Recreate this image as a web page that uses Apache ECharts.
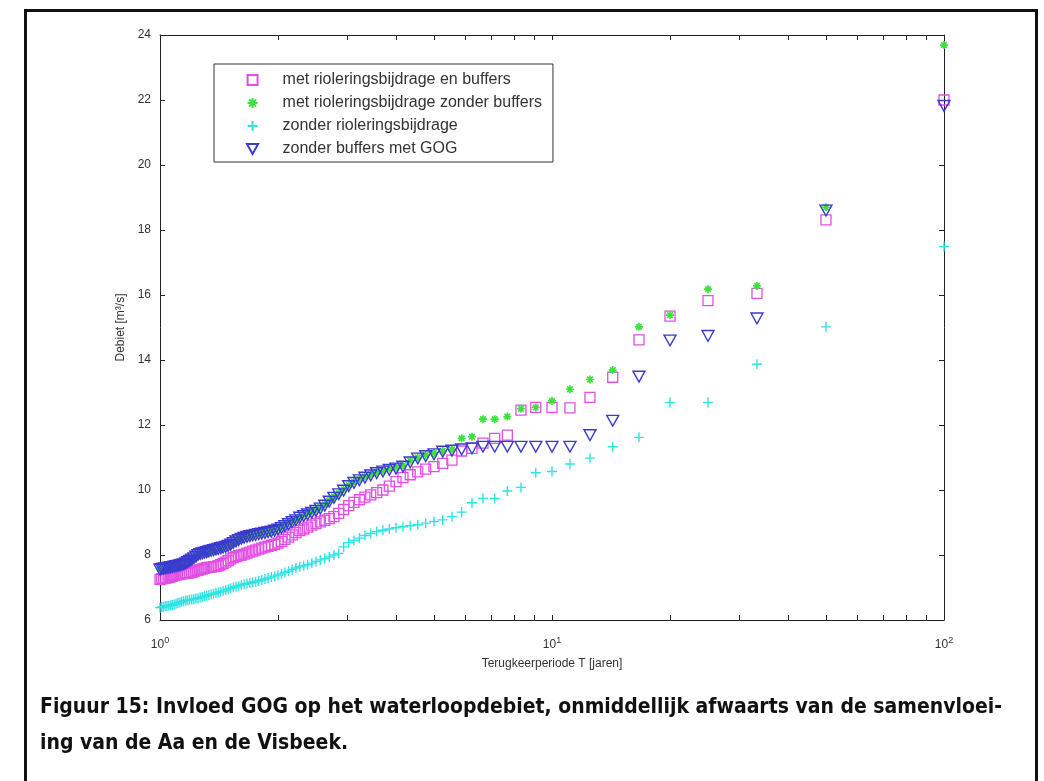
<!DOCTYPE html>
<html><head><meta charset="utf-8">
<script src="https://cdn.jsdelivr.net/npm/echarts@6/dist/echarts.min.js"></script>
<style>html,body{margin:0;padding:0;background:#fff;}#c{width:1044px;height:781px;}</style>
</head><body><div id="c"></div>
<script>
// Return periods T [jaren]
const periods = [100, 50, 33.333, 25, 20, 16.667, 14.286, 12.5, 11.111, 10, 9.091, 8.333, 7.692, 7.143, 6.667, 6.25, 5.882, 5.556, 5.263, 5,
  4.762, 4.545, 4.348, 4.167, 4, 3.846, 3.704, 3.571, 3.448, 3.333, 3.226, 3.125, 3.030, 2.941, 2.857, 2.778, 2.703, 2.632, 2.564, 2.5,
  2.439, 2.381, 2.326, 2.273, 2.222, 2.174, 2.128, 2.083, 2.041, 2, 1.961, 1.923, 1.887, 1.852, 1.818, 1.786, 1.754, 1.724, 1.695, 1.667,
  1.639, 1.613, 1.587, 1.563, 1.538, 1.515, 1.493, 1.471, 1.449, 1.429, 1.408, 1.389, 1.370, 1.351, 1.333, 1.316, 1.299, 1.282, 1.266, 1.25,
  1.235, 1.220, 1.205, 1.190, 1.176, 1.163, 1.149, 1.136, 1.124, 1.111, 1.099, 1.087, 1.075, 1.064, 1.053, 1.042, 1.031, 1.020, 1.010, 1];

// met rioleringsbijdrage en buffers
const metBuffers = [22.0, 18.31, 16.05, 15.83, 15.35, 14.62, 13.47, 12.85, 12.53, 12.54, 12.54, 12.46, 11.69, 11.59, 11.44, 11.28, 11.2, 10.92, 10.82, 10.72,
  10.64, 10.56, 10.47, 10.38, 10.26, 10.12, 10.00, 9.92, 9.85, 9.78, 9.70, 9.62, 9.52, 9.40, 9.28, 9.18, 9.12, 9.07, 9.02, 8.97,
  8.92, 8.86, 8.80, 8.75, 8.69, 8.62, 8.55, 8.48, 8.42, 8.37, 8.33, 8.30, 8.27, 8.24, 8.21, 8.18, 8.15, 8.12, 8.09, 8.06,
  8.03, 8.00, 7.98, 7.95, 7.92, 7.88, 7.83, 7.78, 7.74, 7.70, 7.67, 7.65, 7.64, 7.63, 7.62, 7.61, 7.59, 7.57, 7.55, 7.53,
  7.51, 7.49, 7.47, 7.45, 7.44, 7.44, 7.43, 7.42, 7.41, 7.40, 7.39, 7.37, 7.35, 7.33, 7.31, 7.30, 7.29, 7.28, 7.27, 7.25];

// met rioleringsbijdrage zonder buffers
const metZonderBuffers = [23.69, 18.7, 16.28, 16.18, 15.38, 15.02, 13.69, 13.4, 13.1, 12.74, 12.54, 12.5, 12.26, 12.18, 12.18, 11.64, 11.59, 11.25, 11.2, 11.14,
  11.08, 11.0, 10.9, 10.76, 10.7, 10.66, 10.6, 10.55, 10.48, 10.42, 10.33, 10.26, 10.15, 10.02, 9.9, 9.8, 9.68, 9.56, 9.47, 9.4,
  9.34, 9.29, 9.24, 9.18, 9.11, 9.05, 8.99, 8.93, 8.87, 8.81, 8.77, 8.74, 8.72, 8.7, 8.68, 8.66, 8.64, 8.62, 8.6, 8.57,
  8.54, 8.5, 8.46, 8.42, 8.37, 8.32, 8.29, 8.27, 8.25, 8.23, 8.21, 8.19, 8.17, 8.15, 8.13, 8.11, 8.09, 8.07, 8.04, 8.0,
  7.95, 7.9, 7.86, 7.82, 7.78, 7.75, 7.74, 7.72, 7.71, 7.7, 7.68, 7.67, 7.66, 7.65, 7.64, 7.63, 7.62, 7.61, 7.59, 7.58];

// zonder rioleringsbijdrage
const zonderRiolering = [17.49, 15.02, 13.87, 12.69, 12.69, 11.62, 11.33, 10.98, 10.8, 10.57, 10.53, 10.08, 9.97, 9.74, 9.74, 9.61, 9.32, 9.18, 9.08, 9.03,
  8.98, 8.93, 8.90, 8.87, 8.84, 8.80, 8.76, 8.72, 8.66, 8.60, 8.52, 8.45, 8.38, 8.25, 8.05, 8.00, 7.94, 7.89, 7.85, 7.80,
  7.75, 7.70, 7.67, 7.64, 7.60, 7.55, 7.50, 7.46, 7.42, 7.38, 7.35, 7.32, 7.29, 7.26, 7.23, 7.20, 7.18, 7.16, 7.14, 7.12,
  7.10, 7.08, 7.05, 7.02, 7.00, 6.98, 6.95, 6.92, 6.89, 6.87, 6.85, 6.83, 6.81, 6.79, 6.77, 6.75, 6.73, 6.71, 6.69, 6.67,
  6.66, 6.64, 6.63, 6.62, 6.61, 6.60, 6.58, 6.56, 6.54, 6.52, 6.50, 6.48, 6.46, 6.45, 6.44, 6.43, 6.42, 6.41, 6.40, 6.38];

// zonder buffers met GOG
const zonderBuffersGOG = [21.82, 18.6, 15.28, 14.74, 14.6, 13.49, 12.13, 11.69, 11.33, 11.33, 11.33, 11.33, 11.33, 11.33, 11.33, 11.28, 11.25, 11.21, 11.18, 11.10,
  11.04, 10.97, 10.85, 10.72, 10.66, 10.62, 10.57, 10.52, 10.45, 10.38, 10.30, 10.22, 10.12, 9.98, 9.87, 9.76, 9.64, 9.52, 9.43, 9.36,
  9.30, 9.25, 9.20, 9.15, 9.07, 9.01, 8.95, 8.89, 8.83, 8.78, 8.75, 8.72, 8.70, 8.68, 8.66, 8.64, 8.62, 8.60, 8.58, 8.56,
  8.53, 8.50, 8.46, 8.42, 8.37, 8.32, 8.28, 8.25, 8.23, 8.21, 8.19, 8.17, 8.15, 8.13, 8.11, 8.09, 8.07, 8.05, 8.03, 8.00,
  7.95, 7.90, 7.86, 7.82, 7.78, 7.74, 7.71, 7.70, 7.68, 7.67, 7.66, 7.64, 7.63, 7.62, 7.61, 7.60, 7.59, 7.58, 7.57, 7.55];

const seriesNames = ['met rioleringsbijdrage en buffers', 'met rioleringsbijdrage zonder buffers', 'zonder rioleringsbijdrage', 'zonder buffers met GOG'];
const xTickValues = [1,2,3,4,5,6,7,8,9,10,20,30,40,50,60,70,80,90,100];
const xLabelValues = [1,10,100];
const xTitle = 'Terugkeerperiode T [jaren]';
const yTitle = 'Debiet [m³/s]';
const captionLines = ['Figuur 15: Invloed GOG op het waterloopdebiet, onmiddellijk afwaarts van de samenvloei-', 'ing van de Aa en de Visbeek.'];

const pair = arr => periods.map((t, i) => [t, arr[i]]);
const axisColor = '#222';
const labelFont = 'Liberation Sans, Arial, sans-serif';

const SQUARE = 'path://M0,0L10,0L10,10L0,10Z';
const STAR = 'path://M5,0L5,10M0,5L10,5M1.5,1.5L8.5,8.5M8.5,1.5L1.5,8.5';
const PLUS = 'path://M5,0L5,10M0,5L10,5';
const TRI = 'path://M0,0L10,0L5,9Z';

function mk(name, data, sym, size, color, bw) {
  return {
    name, type: 'scatter', data: pair(data), symbol: sym, symbolSize: size, symbolKeepAspect: true,
    itemStyle: { color: 'rgba(0,0,0,0)', borderColor: color, borderWidth: bw, opacity: 1 },
    emphasis: { disabled: true }, animation: false
  };
}

const captionFont = 'bold 22px "Liberation Sans Narrow", "DejaVu Sans Condensed", "DejaVu Sans", sans-serif';
function measure(t) {
  const c = document.createElement('canvas').getContext('2d');
  c.font = captionFont; return c.measureText(t).width;
}
const capScale = 962 / measure(captionLines[0]);

const chart = echarts.init(document.getElementById('c'), null, { renderer: 'canvas' });
const baseXAxis = {
  type: 'log', logBase: 10, min: 1, max: 100,
  axisLine: { show: true, lineStyle: { color: axisColor, width: 1 } },
  axisTick: { show: true, inside: true, length: 5, customValues: xTickValues, lineStyle: { color: axisColor } },
  minorTick: { show: false }, splitLine: { show: false }
};
const baseYAxis = {
  type: 'value', min: 6, max: 24, interval: 2,
  axisLine: { show: true, lineStyle: { color: axisColor, width: 1 } },
  axisTick: { show: true, inside: true, length: 5, lineStyle: { color: axisColor } },
  splitLine: { show: false }
};
chart.setOption({
  backgroundColor: '#fff',
  animation: false,
  grid: { left: 160, right: 100, top: 35, bottom: 161, outerBoundsMode: 'none', containLabel: false },
  xAxis: [
    Object.assign({}, baseXAxis, {
      position: 'bottom',
      name: xTitle, nameLocation: 'middle', nameGap: 38,
      nameTextStyle: { fontFamily: labelFont, fontSize: 12, color: '#333' },
      axisLabel: {
        show: true, customValues: xLabelValues, margin: 16,
        formatter: v => '{b|10}{s|' + Math.round(Math.log10(v)) + '}',
        rich: { b: { fontFamily: labelFont, fontSize: 12, color: '#333' }, s: { fontFamily: labelFont, fontSize: 9, color: '#333', padding: [0, 0, 9, 0] } }
      }
    }),
    Object.assign({}, baseXAxis, { position: 'top', axisLabel: { show: false } })
  ],
  yAxis: [
    Object.assign({}, baseYAxis, {
      position: 'left',
      name: yTitle, nameLocation: 'middle', nameGap: 33, nameRotate: 90,
      nameTextStyle: { fontFamily: labelFont, fontSize: 12, color: '#333' },
      axisLabel: { show: true, margin: 9, fontFamily: labelFont, fontSize: 12, color: '#333' }
    }),
    Object.assign({}, baseYAxis, { position: 'right', axisLabel: { show: false } })
  ],
  legend: {
    show: true, orient: 'vertical', left: 214, top: 64,
    data: seriesNames,
    itemWidth: 30, itemHeight: 10, itemGap: 7,
    padding: [8, 11, 5, 32],
    borderColor: '#333', borderWidth: 1, backgroundColor: '#fff',
    textStyle: { fontFamily: labelFont, fontSize: 16, color: '#333', lineHeight: 15, padding: [0, 0, 0, 10] },
    selectedMode: false
  },
  series: [
    mk(seriesNames[0], metBuffers, SQUARE, 10, '#e34ee3', 1.3),
    mk(seriesNames[1], metZonderBuffers, STAR, 8, '#3ee03e', 1.7),
    mk(seriesNames[2], zonderRiolering, PLUS, 10, '#2fe3e3', 1.4),
    mk(seriesNames[3], zonderBuffersGOG, TRI, 12, '#3a3ad0', 1.4)
  ],
  graphic: [
    { type: 'rect', shape: { x: 25.5, y: 10.5, width: 1011, height: 800 }, style: { fill: null, stroke: '#111', lineWidth: 3 }, silent: true },
    { type: 'text', x: 40, y: 707, scaleX: capScale, style: { text: captionLines[0], font: captionFont, fill: '#111', textVerticalAlign: 'middle', verticalAlign: 'middle' }, silent: true },
    { type: 'text', x: 40, y: 743, scaleX: capScale, style: { text: captionLines[1], font: captionFont, fill: '#111', textVerticalAlign: 'middle', verticalAlign: 'middle' }, silent: true }
  ]
});
</script>
</body></html>
